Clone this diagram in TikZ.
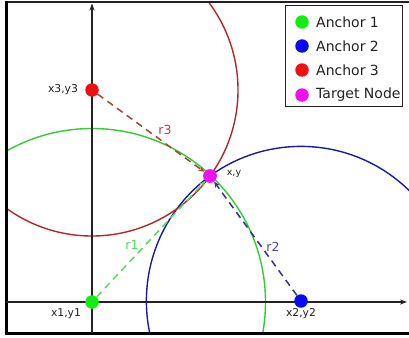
\documentclass[tikz,border=0pt]{standalone}
\usepackage{fontspec}
\setmainfont{DejaVu Sans}
\usetikzlibrary{arrows.meta}
\definecolor{cG}{HTML}{33CC33}
\definecolor{cB}{HTML}{1A1AA0}
\definecolor{cR}{HTML}{B02828}
\definecolor{fG}{HTML}{11EE11}
\definecolor{fB}{HTML}{0A0AF0}
\definecolor{fR}{HTML}{EE1111}
\definecolor{fM}{HTML}{EE11EE}
\definecolor{dG}{HTML}{55DD55}
\definecolor{dB}{HTML}{33338A}
\definecolor{dR}{HTML}{A84434}
\definecolor{lR}{HTML}{C83848}
\definecolor{lB}{HTML}{4848A8}
\definecolor{axc}{HTML}{222222}
\tikzset{
  dot/.style={circle, inner sep=0pt, minimum size=13.5pt},
  arc/.style={line width=1.4pt},
  dashline/.style={line width=1.5pt, dash pattern=on 7pt off 5pt, -{Stealth[length=6pt,width=5pt]}},
  axis/.style={line width=1.4pt, color=axc, -{Stealth[length=7pt,width=5pt]}},
  ptlbl/.style={font=\fontsize{10.8}{12}\selectfont, text=axc, inner sep=0pt},
  rlbl/.style={font=\fontsize{12.5}{14}\selectfont, inner sep=0pt},
  leg/.style={font=\fontsize{14}{16}\selectfont, text=axc, inner sep=0pt, anchor=west}
}
\begin{document}
\begin{tikzpicture}[x=1pt,y=-1pt]
\useasboundingbox (0,0) rectangle (409,337);
\fill[white] (0,0) rectangle (409,337);
% circles
\begin{scope}
\clip (6,2) rectangle (409,333);
\draw[arc, cG] (92,302) circle[radius=173.5pt];
\draw[arc, cB] (301,301) circle[radius=154.6pt];
\draw[arc, cR] (92,90) circle[radius=146pt];
\end{scope}
% frame
\draw[line width=1.5pt, axc] (6,2) -- (409,2);
\draw[line width=3pt, black] (6,1.5) -- (6,334.5);
\draw[line width=3pt, black] (4.5,333) -- (409,333);
% axes
\coordinate (yb) at (92,333);
\coordinate (yt) at (92,3.5);
\coordinate (xl) at (6,302);
\coordinate (xr) at (407,302);
\draw[axis] (yb) -- (yt);
\draw[axis] (xl) -- (xr);
% nodes
\node[dot, fill=fG] (a1) at (92,302) {};
\node[dot, fill=fB] (a2) at (301,301) {};
\node[dot, fill=fR] (a3) at (92,90) {};
\node[dot, fill=fM] (t) at (210,176) {};
% dashed range lines
\draw[dashline, dG] (a1) -- (t);
\draw[dashline, dB] (a2) -- (t);
\draw[dashline, dR] (a3) -- (t);
\node[dot, fill=fM] at (t) {};
% labels
\node[ptlbl] (l1) at (66,314) {x1,y1};
\node[ptlbl] (l2) at (301,314) {x2,y2};
\node[ptlbl] (l3) at (63,90) {x3,y3};
\node[ptlbl, font=\fontsize{9.5}{11}\selectfont] (lt) at (234,174) {x,y};
\node[rlbl, text=dG] (r1) at (132,245) {r1};
\node[rlbl, text=lB] (r2) at (273,247) {r2};
\node[rlbl, text=lR] (r3) at (165,130) {r3};
% legend
\node[draw=axc, line width=0.8pt, fill=white, minimum width=117pt, minimum height=101pt, inner sep=0pt] (legend) at (343.5,55.5) {};
\node[dot, fill=fG] (k1) at (302,22) {};
\node[dot, fill=fB] (k2) at (302,46) {};
\node[dot, fill=fR] (k3) at (302,70) {};
\node[dot, fill=fM] (k4) at (302,95) {};
\node[leg] (t1) at (316,22) {Anchor 1};
\node[leg] (t2) at (316,46) {Anchor 2};
\node[leg] (t3) at (316,70) {Anchor 3};
\node[leg] (t4) at (316,95) {Target Node};
\end{tikzpicture}
\end{document}
